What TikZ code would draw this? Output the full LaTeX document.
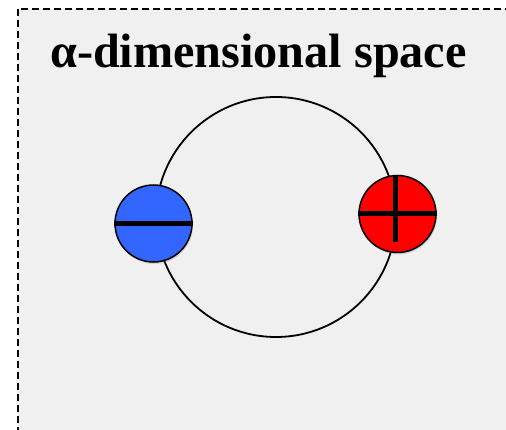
\documentclass[tikz,border=0pt]{standalone}
\usepackage{fontspec}
\setmainfont{Liberation Serif}
\usetikzlibrary{shadows}
\definecolor{bgray}{HTML}{F0F0F0}
\definecolor{pblue}{HTML}{3366FF}
\definecolor{pred}{HTML}{FF0000}
\begin{document}
\begin{tikzpicture}[x=1pt,y=-1pt,
  charge/.style={circle, draw=black, line width=1.5pt, minimum size=77pt, inner sep=0pt,
    drop shadow={opacity=0.25, shadow xshift=1pt, shadow yshift=-2pt}},
  bar/.style={line width=5pt},
  ring/.style={circle, draw=black, line width=1.8pt, minimum size=240pt, inner sep=0pt}]
\useasboundingbox (0,0) rectangle (506,430);
\clip (0,0) rectangle (506,430);
\draw[fill=bgray, line width=1.8pt, dash pattern=on 7pt off 4pt] (18,9) rectangle (540,460);
\node[anchor=base west, font=\bfseries\fontsize{48.2}{52}\selectfont, inner sep=0pt] (title) at (50,68) {α-dimensional space};
\node[ring] (orbit) at (276,217) {};
\node[charge, fill=pblue] (neg) at (153.5,223.5) {};
\node[charge, fill=pred] (pos) at (397.5,214) {};
\draw[bar] (neg.west) -- (neg.east);
\draw[bar] (pos.west) -- (pos.east);
\coordinate (posv) at (395,242);
\draw[bar] (pos.north -| posv) -- (posv);
\end{tikzpicture}
\end{document}
